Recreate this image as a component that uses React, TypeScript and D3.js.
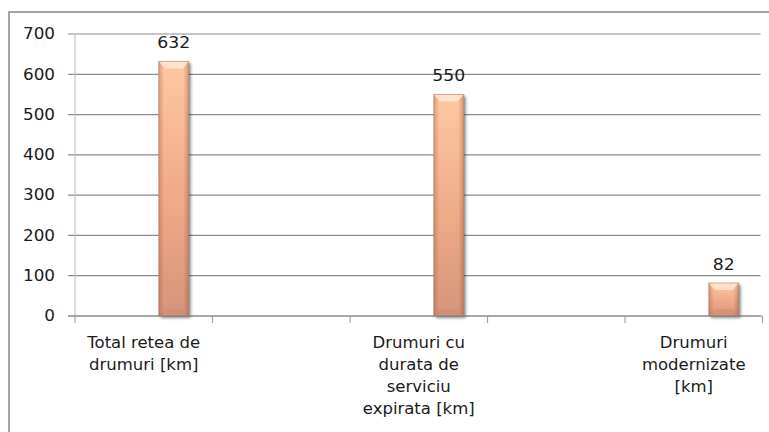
import React from "react";
import * as d3 from "d3";

// Road network figures (km)
const categories: string[][] = [
  ["Total retea de", "drumuri [km]"],
  [],
  ["Drumuri cu", "durata de", "serviciu", "expirata [km]"],
  [],
  ["Drumuri", "modernizate", "[km]"],
];
const values: (number | null)[] = [632, null, 550, null, 82];
const yTicks: number[] = [0, 100, 200, 300, 400, 500, 600, 700];

const W = 769;
const H = 432;
const plot = { left: 75, right: 762.5, top: 34, bottom: 316 };
const FONT = "'DejaVu Sans', sans-serif";

export default function App() {
  const x = d3
    .scaleBand<number>()
    .domain(d3.range(categories.length))
    .range([plot.left, plot.right])
    .paddingInner(0)
    .paddingOuter(0);
  // each category holds a three-slot cluster; the bars sit in the last slot
  const slot = d3
    .scaleBand<number>()
    .domain([0, 1, 2])
    .range([0, x.bandwidth()])
    .paddingInner(0)
    .paddingOuter(0.79);
  const y = d3.scaleLinear().domain([0, 700]).range([plot.bottom, plot.top]);

  const tickEdges = d3.range(categories.length + 1).map((i) =>
    i < categories.length ? (x(i) as number) : plot.right
  );

  return (
    <svg
      width={W}
      height={H}
      viewBox={`0 0 ${W} ${H}`}
      style={{ position: "absolute", left: 0, top: 0, display: "block", background: "#fff" }}
    >
      <defs>
        <linearGradient id="barFill" x1="0" y1="0" x2="0" y2="1">
          <stop offset="0%" stopColor="#FFC7A3" />
          <stop offset="55%" stopColor="#EFAA88" />
          <stop offset="100%" stopColor="#D6957A" />
        </linearGradient>
        <linearGradient id="barEdge" x1="0" y1="0" x2="1" y2="0">
          <stop offset="0%" stopColor="#8a5238" stopOpacity={0.35} />
          <stop offset="18%" stopColor="#8a5238" stopOpacity={0} />
          <stop offset="82%" stopColor="#8a5238" stopOpacity={0} />
          <stop offset="100%" stopColor="#8a5238" stopOpacity={0.4} />
        </linearGradient>
        <filter id="barShadow" x="-30%" y="-10%" width="160%" height="130%">
          <feGaussianBlur in="SourceAlpha" stdDeviation="1.6" />
          <feOffset dx="1.5" dy="1.5" result="b" />
          <feComponentTransfer>
            <feFuncA type="linear" slope="0.45" />
          </feComponentTransfer>
          <feMerge>
            <feMergeNode />
            <feMergeNode in="SourceGraphic" />
          </feMerge>
        </filter>
      </defs>

      {/* chart frame */}
      <rect x={9} y={12} width={W + 20} height={H + 20} fill="none" stroke="#878787" strokeWidth={1.5} />

      {/* horizontal gridlines */}
      {yTicks.map((t) => (
        <line
          key={`g${t}`}
          x1={68}
          x2={plot.right - 2}
          y1={y(t)}
          y2={y(t)}
          stroke="#8c8c8c"
          strokeWidth={1.2}
        />
      ))}

      {/* value axis line */}
      <line x1={plot.left} x2={plot.left} y1={plot.top} y2={plot.bottom} stroke="#c4c4c4" strokeWidth={1.2} />

      {/* category tick marks */}
      {tickEdges.map((e, i) => (
        <line key={`t${i}`} x1={e} x2={e} y1={plot.bottom} y2={plot.bottom + 7} stroke="#a6a6a6" strokeWidth={1.2} />
      ))}

      {/* value axis labels */}
      {yTicks.map((t) => (
        <text
          key={`yl${t}`}
          transform={`translate(55,${y(t) + 5.3}) scale(1.12,1)`}
          textAnchor="end"
          fontFamily={FONT}
          fontSize={15}
          fill="#1a1a1a"
        >
          {t}
        </text>
      ))}

      {/* bars */}
      {values.map((v, i) => {
        if (v == null) return null;
        const bx = (x(i) as number) + (slot(2) as number);
        const bw = slot.bandwidth();
        const top = y(v);
        const bh = y(0) - top;
        const bev = Math.min(7, bh / 3);
        return (
          <g key={`b${i}`}>
            <g filter="url(#barShadow)">
              <rect x={bx} y={top} width={bw} height={bh} fill="url(#barFill)" />
            </g>
            <rect x={bx} y={top} width={bw} height={bh} fill="url(#barEdge)" />
            <polygon
              points={`${bx},${top} ${bx + bw},${top} ${bx + bw - 6},${top + bev} ${bx + 6},${top + bev}`}
              fill="#FFE6D2"
              opacity={0.85}
            />
            <polygon
              points={`${bx},${y(0)} ${bx + bw},${y(0)} ${bx + bw - 6},${y(0) - bev} ${bx + 6},${y(0) - bev}`}
              fill="#c98468"
              opacity={0.35}
            />
            <rect x={bx} y={top} width={bw} height={bh} fill="none" stroke="#a8705a" strokeOpacity={0.5} strokeWidth={1} />
            <text
              transform={`translate(${bx + bw / 2},${top - 13}) scale(1.15,1)`}
              textAnchor="middle"
              fontFamily={FONT}
              fontSize={15}
              fill="#1a1a1a"
            >
              {v}
            </text>
          </g>
        );
      })}

      {/* category axis line */}
      <line x1={68} x2={plot.right} y1={plot.bottom} y2={plot.bottom} stroke="#8c8c8c" strokeWidth={1.2} />

      {/* category labels */}
      {categories.map((lines, i) => (
        <text
          key={`c${i}`}
          x={(x(i) as number) + x.bandwidth() / 2}
          y={348}
          textAnchor="middle"
          fontFamily={FONT}
          fontSize={16.5}
          fill="#1a1a1a"
        >
          {lines.map((l, j) => (
            <tspan key={j} x={(x(i) as number) + x.bandwidth() / 2} dy={j === 0 ? 0 : 22}>
              {l}
            </tspan>
          ))}
        </text>
      ))}
    </svg>
  );
}
